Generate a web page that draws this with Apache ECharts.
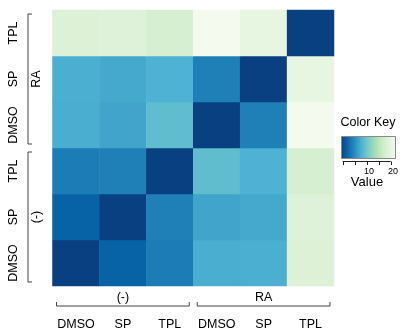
<!DOCTYPE html>
<html>
<head>
<meta charset="utf-8">
<script src="https://cdn.jsdelivr.net/npm/echarts@6/dist/echarts.min.js"></script>
<style>
  html, body { margin: 0; padding: 0; background: #fff; }
  #main { width: 400px; height: 333px; }
</style>
</head>
<body>
<div id="main"></div>
<script>
// groups and conditions, samples go (-) first then RA
const groups = ['(-)', 'RA'];
const conditions = ['DMSO', 'SP', 'TPL'];
const samples = groups.flatMap(g => conditions.map(c => g + ' ' + c));

// distance of each sample to the others (same order as samples)
const rowCtrlDMSO = [0, 2.3, 4.1, 7.6, 7.7, 18.0];
const rowCtrlSP   = [2.3, 0, 4.4, 7.0, 7.3, 18.3];
const rowCtrlTPL  = [4.1, 4.4, 0, 9.0, 7.9, 17.3];
const rowRaDMSO   = [7.6, 7.0, 9.0, 0, 4.4, 20.9];
const rowRaSP     = [7.7, 7.3, 7.9, 4.4, 0, 19.3];
const rowRaTPL    = [18.0, 18.3, 17.3, 20.9, 19.3, 0];
const rows = [rowCtrlDMSO, rowCtrlSP, rowCtrlTPL, rowRaDMSO, rowRaSP, rowRaTPL];

// color key
const keyMin = 0;
const keyMax = 21.2;
const keyTicks = [0, 5, 10, 15, 20];
const keyLabels = ['', '', '10', '', '20'];

// GnBu reversed
const palette = ['#084081', '#0868ac', '#2b8cbe', '#4eb3d3', '#7bccc4',
                 '#a8ddb5', '#ccebc5', '#e0f3db', '#f7fcf0'];

const FONT = 'Liberation Sans, Arial, Helvetica, sans-serif';

const data = [];
rows.forEach((row, yi) => {
    row.forEach((v, xi) => data.push([xi, yi, v]));
});
const shortName = s => s.split(' ')[1];

const chart = echarts.init(document.getElementById('main'));
const option = {
    animation: false,
    grid: { left: 52.5, right: 66, top: 10, bottom: 47 },
    xAxis: {
        type: 'category',
        data: samples,
        axisLine: { show: false },
        axisTick: { show: false },
        splitLine: { show: false },
        axisLabel: {
            formatter: shortName,
            margin: 32.5,
            color: '#000',
            fontSize: 12.5,
            fontFamily: FONT,
            interval: 0
        }
    },
    yAxis: {
        type: 'category',
        data: samples,
        axisLine: { show: false },
        axisTick: { show: false },
        splitLine: { show: false },
        axisLabel: {
            formatter: shortName,
            rotate: 90,
            margin: 32,
            color: '#000',
            fontSize: 12.5,
            fontFamily: FONT,
            interval: 0
        }
    },
    visualMap: {
        show: false,
        type: 'continuous',
        min: keyMin,
        max: keyMax,
        inRange: { color: palette }
    },
    series: [{
        type: 'heatmap',
        data: data,
        itemStyle: { borderWidth: 0 },
        emphasis: { disabled: true }
    }]
};
chart.setOption(option);

// group brackets and labels, placed from the axes
const p0 = chart.convertToPixel({ gridIndex: 0 }, [0, 0]);
const p1 = chart.convertToPixel({ gridIndex: 0 }, [1, 1]);
const bw = p1[0] - p0[0];
const bh = p0[1] - p1[1];
const gridBottom = p0[1] + bh / 2;
const gridLeft = p0[0] - bw / 2;
const inset = 4;
const lineStyle = { stroke: '#444', lineWidth: 1, fill: null };
const elements = [];

groups.forEach((g, gi) => {
    const first = gi * conditions.length;
    const last = first + conditions.length - 1;
    // bottom
    const xa = chart.convertToPixel({ xAxisIndex: 0 }, first) - bw / 2 + inset;
    const xb = chart.convertToPixel({ xAxisIndex: 0 }, last) + bw / 2 - inset;
    const yl = gridBottom + 20;
    elements.push({
        type: 'polyline',
        shape: { points: [[xa, yl - 4], [xa, yl], [xb, yl], [xb, yl - 4]] },
        style: lineStyle
    });
    elements.push({
        type: 'text',
        x: (xa + xb) / 2, y: gridBottom + 12,
        style: { text: g, font: '12.5px ' + FONT, fill: '#000', align: 'center', verticalAlign: 'middle' }
    });
    // left
    const ya = chart.convertToPixel({ yAxisIndex: 0 }, first) + bh / 2 - inset;
    const yb = chart.convertToPixel({ yAxisIndex: 0 }, last) - bh / 2 + inset;
    const xl = 28;
    elements.push({
        type: 'polyline',
        shape: { points: [[xl + 4, ya], [xl, ya], [xl, yb], [xl + 4, yb]] },
        style: lineStyle
    });
    elements.push({
        type: 'text',
        x: gridLeft - 15.5, y: (ya + yb) / 2,
        rotation: Math.PI / 2,
        style: { text: g, font: '12.5px ' + FONT, fill: '#000', align: 'center', verticalAlign: 'middle' }
    });
});

// color key box
const kx0 = 341, kx1 = 395, ky0 = 136, ky1 = 158;
const kv0 = 342.7, kPerUnit = 2.4;
const stops = palette.map((c, i) => ({ offset: i / (palette.length - 1), color: c }));
elements.push({
    type: 'text',
    x: 368, y: 123,
    style: { text: 'Color Key', font: '12.5px ' + FONT, fill: '#000', align: 'center', verticalAlign: 'middle' }
});
elements.push({
    type: 'rect',
    shape: { x: kx0 + 0.5, y: ky0 + 0.5, width: kx1 - kx0, height: ky1 - ky0 },
    style: {
        fill: new echarts.graphic.LinearGradient(0, 0, 1, 0, stops),
        stroke: '#888', lineWidth: 1
    }
});
const axY = 161.5;
elements.push({
    type: 'line',
    shape: { x1: kv0 + keyTicks[0] * kPerUnit, y1: axY, x2: kv0 + keyTicks[keyTicks.length - 1] * kPerUnit, y2: axY },
    style: { stroke: '#222', lineWidth: 1 }
});
keyTicks.forEach((t, i) => {
    const x = Math.round(kv0 + t * kPerUnit) + 0.5;
    elements.push({
        type: 'line',
        shape: { x1: x, y1: axY, x2: x, y2: axY + 3.5 },
        style: { stroke: '#222', lineWidth: 1 }
    });
    if (keyLabels[i]) {
        elements.push({
            type: 'text',
            x: x + 1.5, y: 171.5,
            style: { text: keyLabels[i], font: '9px ' + FONT, fill: '#000', align: 'center', verticalAlign: 'middle' }
        });
    }
});
elements.push({
    type: 'text',
    x: 367, y: 182,
    style: { text: 'Value', font: '13px ' + FONT, fill: '#000', align: 'center', verticalAlign: 'middle' }
});

chart.setOption({ graphic: { elements: elements } });
</script>
</body>
</html>
